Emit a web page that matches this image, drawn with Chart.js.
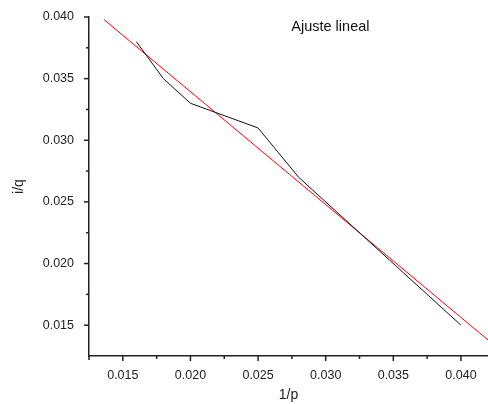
<!DOCTYPE html>
<html>
<head>
<meta charset="utf-8">
<script src="https://cdn.jsdelivr.net/npm/chart.js@4"></script>
<style>
  html, body { margin: 0; padding: 0; background: #fff; }
  #wrap { width: 488px; height: 404px; }
</style>
</head>
<body>
<div id="wrap"><canvas id="fitChart"></canvas></div>
<script>
// measured points (1/p, i/q)
const invP = [0.016, 0.018, 0.020, 0.025, 0.028, 0.033, 0.040];
const invQ = [0.038, 0.035, 0.033, 0.031, 0.027, 0.022, 0.015];

// fitted line, two ends
const fitX = [0.0136, 0.042];
const fitY = [0.0398, 0.0138];

const xRange = [0.0125, 0.042];
const yRange = [0.0125, 0.040];

// tick positions; labelled ones are the multiples of 0.005
const xTickValues = [0.015, 0.0175, 0.020, 0.0225, 0.025, 0.0275, 0.030, 0.0325, 0.035, 0.0375, 0.040];
const yTickValues = [0.015, 0.0175, 0.020, 0.0225, 0.025, 0.0275, 0.030, 0.0325, 0.035, 0.0375, 0.040];
const labelStep = 0.005;

const titleText = "Ajuste lineal";
const fontFamily = "'Liberation Sans', Arial, sans-serif";

function isLabelTick(v) {
  return Math.abs(v / labelStep - Math.round(v / labelStep)) < 1e-6;
}

// outward ticks, long at labels, short between
const tickMarks = {
  id: 'tickMarks',
  afterDraw(chart) {
    const ctx = chart.ctx;
    const xs = chart.scales.x, ys = chart.scales.y;
    ctx.save();
    ctx.strokeStyle = '#222';
    ctx.lineWidth = 1.5;
    xs.ticks.forEach(t => {
      const px = xs.getPixelForValue(t.value);
      const len = isLabelTick(t.value) ? 5 : 3;
      ctx.beginPath();
      ctx.moveTo(px, xs.top);
      ctx.lineTo(px, xs.top + len);
      ctx.stroke();
    });
    ys.ticks.forEach(t => {
      const py = ys.getPixelForValue(t.value);
      const len = isLabelTick(t.value) ? 5 : 3;
      ctx.beginPath();
      ctx.moveTo(ys.right, py);
      ctx.lineTo(ys.right - len, py);
      ctx.stroke();
    });
    // tick at axis origin
    ctx.beginPath();
    ctx.moveTo(xs.left, xs.top);
    ctx.lineTo(xs.left, xs.top + 4);
    ctx.stroke();

    const area = chart.chartArea;
    ctx.fillStyle = '#111';
    ctx.font = '14.5px ' + fontFamily;
    ctx.textBaseline = 'top';
    ctx.fillText(titleText, area.left + (area.right - area.left) * 0.507, area.top + 3);
    ctx.restore();
  }
};

new Chart(document.getElementById('fitChart'), {
  type: 'scatter',
  data: {
    datasets: [
      {
        label: 'datos',
        data: invP.map((x, i) => ({ x: x, y: invQ[i] })),
        showLine: true,
        borderColor: '#111',
        borderWidth: 1,
        pointRadius: 0,
        tension: 0
      },
      {
        label: 'ajuste',
        data: fitX.map((x, i) => ({ x: x, y: fitY[i] })),
        showLine: true,
        borderColor: '#ff0000',
        borderWidth: 1,
        pointRadius: 0,
        tension: 0
      }
    ]
  },
  options: {
    responsive: true,
    maintainAspectRatio: false,
    animation: false,
    layout: { padding: { top: 17, right: 0, left: 0, bottom: 0 } },
    plugins: { legend: { display: false }, tooltip: { enabled: false } },
    scales: {
      x: {
        type: 'linear',
        min: xRange[0],
        max: xRange[1],
        afterBuildTicks(scale) { scale.ticks = xTickValues.map(v => ({ value: v })); },
        afterFit(scale) { scale.height = 48; },
        grid: { display: false },
        border: { display: true, color: '#222', width: 1.5 },
        ticks: {
          autoSkip: false,
          maxRotation: 0,
          padding: 4,
          color: '#222',
          font: { family: fontFamily, size: 12.5 },
          callback: v => isLabelTick(v) ? v.toFixed(3) : ''
        },
        title: {
          display: true,
          text: '1/p',
          color: '#222',
          font: { family: fontFamily, size: 14 },
          padding: { top: 4, bottom: 0 }
        }
      },
      y: {
        type: 'linear',
        min: yRange[0],
        max: yRange[1],
        afterBuildTicks(scale) { scale.ticks = yTickValues.map(v => ({ value: v })); },
        afterFit(scale) { scale.width = 89; },
        grid: { display: false },
        border: { display: true, color: '#222', width: 1.5 },
        ticks: {
          autoSkip: false,
          padding: 7,
          color: '#222',
          font: { family: fontFamily, size: 12.5 },
          callback: v => isLabelTick(v) ? v.toFixed(3) : ''
        },
        title: {
          display: true,
          text: 'i/q',
          color: '#222',
          font: { family: fontFamily, size: 14 },
          padding: { bottom: 0, top: 11 }
        }
      }
    }
  },
  plugins: [tickMarks]
});
</script>
</body>
</html>
